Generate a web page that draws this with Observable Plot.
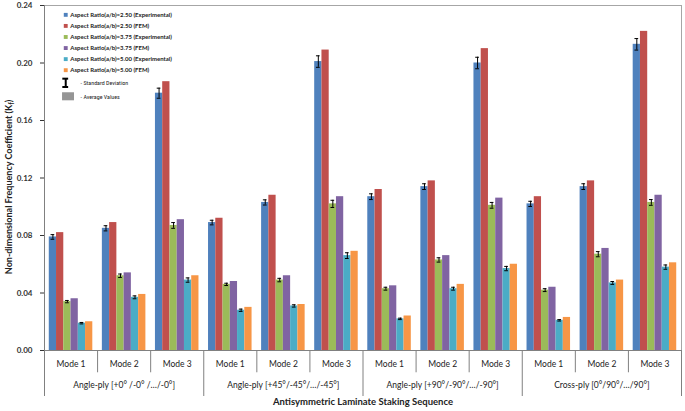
<!DOCTYPE html>
<html>
<head>
<meta charset="utf-8">
<script src="https://cdn.jsdelivr.net/npm/d3@7"></script>
<script src="https://cdn.jsdelivr.net/npm/@observablehq/plot@0.6"></script>
<style>
  body { margin: 0; background: #fff; }
  #chart svg { font-family: Lato, "Open Sans", sans-serif; }
  #chart [aria-label="y-axis tick label"] text { font-weight: bold; }
</style>
</head>
<body>
<div id="chart"></div>
<script>
// ---------- data ----------
const groups = [
  "Angle-ply [+0° /-0° /…/-0°]",
  "Angle-ply [+45°/-45°/…/-45°]",
  "Angle-ply [+90°/-90°/…/-90°]",
  "Cross-ply [0°/90°/…/90°]"
];
const modes = ["Mode 1", "Mode 2", "Mode 3"];
const seriesNames = [
  "Aspect Ratio(a/b)=2.50 (Experimental)",
  "Aspect Ratio(a/b)=2.50 (FEM)",
  "Aspect Ratio(a/b)=3.75 (Experimental)",
  "Aspect Ratio(a/b)=3.75 (FEM)",
  "Aspect Ratio(a/b)=5.00 (Experimental)",
  "Aspect Ratio(a/b)=5.00 (FEM)"
];
const seriesColors = ["#4F81BD", "#C0504D", "#9BBB59", "#8064A2", "#4BACC6", "#F79646"];

// values per category: G1 M1..M3, G2 M1..M3, G3 M1..M3, G4 M1..M3
const ar250Exp = [0.079, 0.085, 0.179, 0.089, 0.103, 0.201, 0.107, 0.114, 0.200, 0.102, 0.114, 0.213];
const ar250Fem = [0.082, 0.089, 0.187, 0.092, 0.108, 0.209, 0.112, 0.118, 0.210, 0.107, 0.118, 0.222];
const ar375Exp = [0.034, 0.052, 0.087, 0.046, 0.049, 0.102, 0.043, 0.063, 0.101, 0.042, 0.067, 0.103];
const ar375Fem = [0.036, 0.054, 0.091, 0.048, 0.052, 0.107, 0.045, 0.066, 0.106, 0.044, 0.071, 0.108];
const ar500Exp = [0.019, 0.037, 0.049, 0.028, 0.031, 0.066, 0.022, 0.043, 0.057, 0.021, 0.047, 0.058];
const ar500Fem = [0.020, 0.039, 0.052, 0.030, 0.032, 0.069, 0.024, 0.046, 0.060, 0.023, 0.049, 0.061];

// standard deviations of the experimental series
const sd250 = [0.0016, 0.0018, 0.0035, 0.0016, 0.0018, 0.0040, 0.0020, 0.0020, 0.0040, 0.0018, 0.0020, 0.0040];
const sd375 = [0.0008, 0.0012, 0.0020, 0.0008, 0.0012, 0.0025, 0.0010, 0.0015, 0.0020, 0.0010, 0.0018, 0.0020];
const sd500 = [0.0005, 0.0010, 0.0015, 0.0008, 0.0008, 0.0020, 0.0005, 0.0010, 0.0015, 0.0005, 0.0010, 0.0015];

const yTicks = [0, 0.04, 0.08, 0.12, 0.16, 0.20, 0.24];
const xTitle = "Antisymmetric Laminate Staking Sequence";

// ---------- derived tables ----------
const seriesValues = [ar250Exp, ar250Fem, ar375Exp, ar375Fem, ar500Exp, ar500Fem];
const categories = groups.flatMap((g, gi) => modes.map((m, mi) => ({i: gi * 3 + mi, mode: m, group: g})));
const pad = 0.09;
const bw = (1 - 2 * pad) / 6;
const bars = [];
seriesValues.forEach((vals, j) => vals.forEach((v, i) => bars.push({i, j, series: seriesNames[j], value: v})));
const errs = [];
[[0, ar250Exp, sd250], [2, ar375Exp, sd375], [4, ar500Exp, sd500]].forEach(([j, vals, sds]) =>
  vals.forEach((v, i) => errs.push({cx: i + pad + (j + 0.5) * bw, lo: v - sds[i], hi: v + sds[i]})));
const boundaries = d3.range(0, 13);
const groupBoundaries = boundaries.filter(b => b % 3 === 0);
const modeBoundaries = boundaries.filter(b => b % 3 !== 0);

// legend placement (in data units)
const legX = 0.4, legTop = 0.2335, legStep = 0.0077;
const legend = seriesNames.map((s, k) => ({s, y: legTop - k * legStep}));
const capHalf = 0.035;

const plot = Plot.plot({
  width: 685,
  height: 411,
  marginLeft: 44,
  marginRight: 4,
  marginTop: 5,
  marginBottom: 61,
  x: {domain: [0, 12], axis: null},
  y: {domain: [0, 0.24], ticks: yTicks, tickFormat: d3.format(".2f"), tickSize: 4, tickPadding: 8, label: null, fontSize: 8},
  color: {domain: seriesNames, range: seriesColors},
  style: {fontSize: "8px", color: "#333"},
  marks: [
    Plot.frame({stroke: "#a6a6a6"}),
    Plot.rectY(bars, {x1: d => d.i + pad + d.j * bw, x2: d => d.i + pad + (d.j + 1) * bw, y1: 0, y2: "value", fill: "series"}),
    // error bars
    Plot.ruleX(errs, {x: "cx", y1: "lo", y2: "hi", stroke: "#000", strokeWidth: 1}),
    Plot.ruleY(errs, {y: "lo", x1: d => d.cx - capHalf, x2: d => d.cx + capHalf, stroke: "#000", strokeWidth: 1}),
    Plot.ruleY(errs, {y: "hi", x1: d => d.cx - capHalf, x2: d => d.cx + capHalf, stroke: "#000", strokeWidth: 1}),
    // axes lines
    Plot.ruleX([0], {stroke: "#808080"}),
    Plot.ruleY([0], {stroke: "#808080"}),
    // category table below
    Plot.ruleX(modeBoundaries, {x: d => d, y1: 0, y2: -0.0155, stroke: "#808080"}),
    Plot.ruleX(groupBoundaries, {x: d => d, y1: 0, y2: -0.032, stroke: "#808080"}),
    Plot.text(categories, {x: d => d.i + 0.5, y: () => 0, dy: 14, text: "mode", fontSize: 8.5, fill: "#222"}),
    Plot.text(groups, {x: (d, k) => k * 3 + 1.5, y: () => 0, dy: 35, text: d => d, fontSize: 8.5, fill: "#222"}),
    Plot.text([xTitle], {x: () => 6, y: () => 0, dy: 51, text: d => d, fontSize: 9.5, fontWeight: "bold", fill: "#222"}),
    // legend
    Plot.dot(legend, {x: () => legX, y: "y", symbol: "square", r: 2.2, fill: "s"}),
    Plot.text(legend, {x: () => legX, y: "y", text: "s", dx: 4.5, textAnchor: "start", fontSize: 6, fontWeight: "bold", fill: "#222"}),
    Plot.ruleX([legX], {y1: 0.1833, y2: 0.1891, stroke: "#000", strokeWidth: 2}),
    Plot.ruleY([0.1833, 0.1891], {x1: legX - 0.055, x2: legX + 0.055, stroke: "#000", strokeWidth: 2}),
    Plot.rect([0], {x1: 0.34, x2: 0.565, y1: 0.1737, y2: 0.1793, fill: "#959595"}),
    Plot.text(["- Standard Deviation", "- Average Values"], {x: () => 0.68, y: (d, k) => k === 0 ? 0.1862 : 0.1765, text: d => d, textAnchor: "start", fontSize: 6, fill: "#222", fontFamily: "'Liberation Sans Narrow', 'Roboto Condensed', Roboto, sans-serif"})
  ]
});

// y axis title with subscript
const svg = d3.select(plot);
const t = svg.append("text")
  .attr("transform", "translate(12,187) rotate(-90)")
  .attr("text-anchor", "middle")
  .attr("font-size", 9)
  .attr("font-weight", "bold")
  .attr("fill", "#222");
t.append("tspan").text("Non-dimensional Frequency Coefficient (K");
t.append("tspan").attr("font-size", 7).attr("dy", 2).text("f");
t.append("tspan").attr("dy", -2).text(")");

document.getElementById("chart").appendChild(plot);
</script>
</body>
</html>
